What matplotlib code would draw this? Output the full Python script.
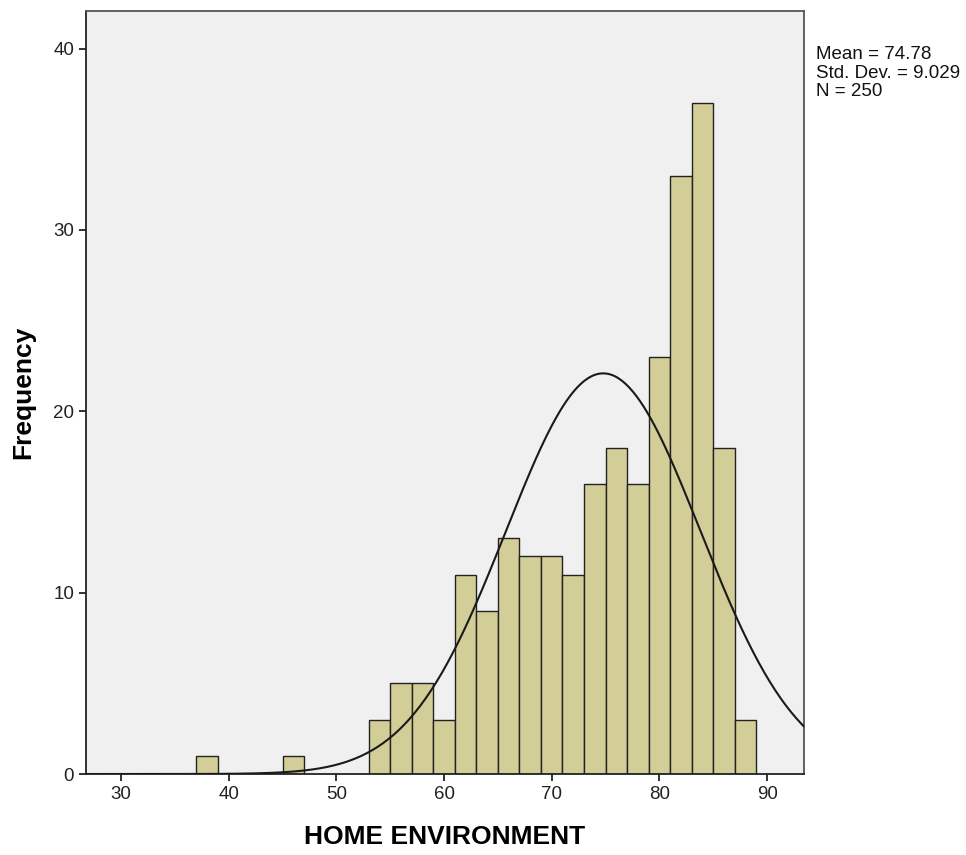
import matplotlib
matplotlib.use("Agg")
import matplotlib.pyplot as plt
import numpy as np

plt.rcParams["font.family"] = ["Liberation Sans", "DejaVu Sans"]

# histogram bins (width 2) and counts
bin_left = [37, 45, 53, 55, 57, 59, 61, 63, 65, 67, 69, 71, 73, 75, 77, 79, 81, 83, 85, 87]
counts = [1, 1, 3, 5, 5, 3, 11, 9, 13, 12, 12, 11, 16, 18, 16, 23, 33, 37, 18, 3]
bin_width = 2
mean = 74.78
std = 9.029
n = 250

fig = plt.figure(figsize=(9.66, 8.55), dpi=100)
ax = fig.add_axes([0.089, 0.0947, 0.743, 0.893])
ax.set_facecolor("#f0f0f0")

ax.bar(bin_left, counts, width=bin_width, align="edge",
       color="#d3ce97", edgecolor="#222222", linewidth=1.0, zorder=2)

xs = np.linspace(26.75, 93.4, 400)
pdf = n * bin_width * np.exp(-0.5 * ((xs - mean) / std) ** 2) / (std * np.sqrt(2 * np.pi))
ax.plot(xs, pdf, color="#1a1a1a", linewidth=1.5, zorder=3)

ax.set_xlim(26.75, 93.4)
ax.set_ylim(0, 42.1)
ax.set_xticks([30, 40, 50, 60, 70, 80, 90])
ax.set_yticks([0, 10, 20, 30, 40])
ax.tick_params(direction="out", length=5, width=1.3, labelsize=13.5, colors="#222222")

for s in ("left", "bottom"):
    ax.spines[s].set_color("#222222")
    ax.spines[s].set_linewidth(1.3)
for s in ("top", "right"):
    ax.spines[s].set_color("#555555")
    ax.spines[s].set_linewidth(1.3)

ax.set_xlabel("HOME ENVIRONMENT", fontsize=19, fontweight="bold", labelpad=16)
ax.set_ylabel("Frequency", fontsize=19, fontweight="bold", labelpad=13)

fig.text(0.845, 0.946, f"Mean = {mean}\nStd. Dev. = {std}\nN = {n}",
         fontsize=13.5, va="top", ha="left", linespacing=1.12, color="#111111")

fig.savefig("out.png", dpi=100)
